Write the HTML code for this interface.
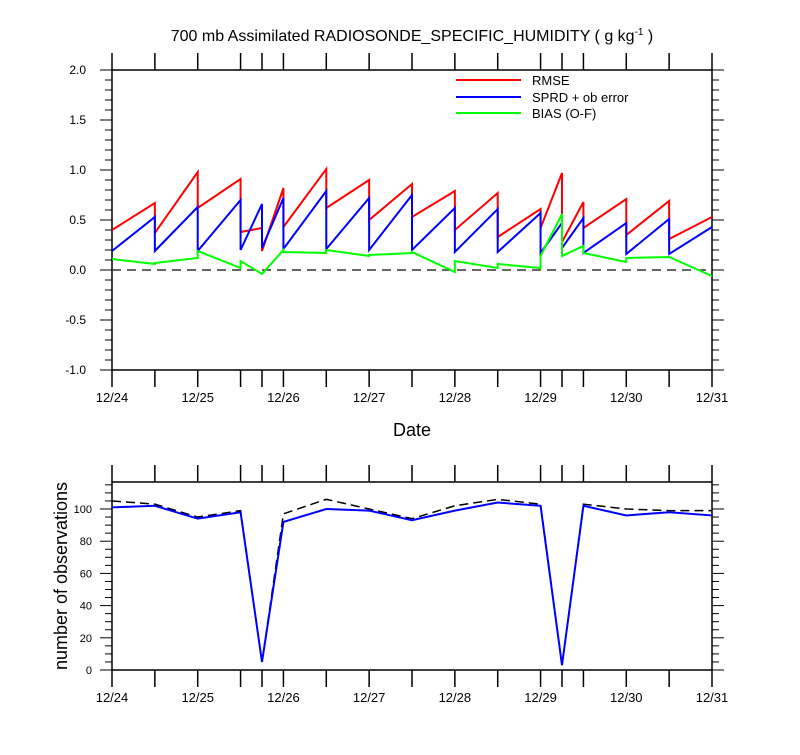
<!DOCTYPE html>
<html><head><meta charset="utf-8"><style>
body{margin:0;background:#fff;font-family:"Liberation Sans",sans-serif}
svg text{font-family:"Liberation Sans",sans-serif;fill:#000}
</style></head><body>
<svg id="c" width="800" height="750" xmlns="http://www.w3.org/2000/svg">
<rect width="800" height="750" fill="#fff"/>
<text x="412" y="41" font-size="16" text-anchor="middle">700 mb Assimilated RADIOSONDE_SPECIFIC_HUMIDITY ( g kg<tspan dy="-6" font-size="10">-1</tspan><tspan dy="6"> )</tspan></text>
<g id="topPanel"></g><g id="botPanel"></g>
</svg>
<script>
const times=[0,0.5,1,1.5,1.75,2,2.5,3,3.5,4,4.5,5,5.25,5.5,6,6.5,7];
const dateLabels=["12/24","12/25","12/26","12/27","12/28","12/29","12/30","12/31"];
const rmseStart=[0.40,0.37,0.62,0.38,0.19,0.43,0.62,0.50,0.53,0.40,0.33,0.42,0.28,0.42,0.35,0.31];
const rmseEnd=[0.67,0.98,0.91,0.42,0.82,1.01,0.90,0.86,0.79,0.77,0.61,0.97,0.68,0.71,0.69,0.53];
const sprdStart=[0.19,0.19,0.19,0.20,0.22,0.21,0.21,0.20,0.20,0.18,0.18,0.17,0.22,0.17,0.16,0.16];
const sprdEnd=[0.53,0.63,0.70,0.66,0.72,0.79,0.72,0.75,0.62,0.61,0.57,0.47,0.52,0.47,0.51,0.43];
const biasStart=[0.11,0.07,0.19,0.09,-0.04,0.18,0.20,0.15,0.18,0.09,0.06,0.14,0.14,0.17,0.12,0.13];
const biasEnd=[0.06,0.12,0.02,-0.04,0.20,0.17,0.14,0.17,-0.02,0.02,0.02,0.56,0.24,0.08,0.13,-0.06];
const obsUsed=[101,102,94,98,5,92,100,99,93,99,104,102,3,102,96,98,96];
const obsTotal=[105,103,95,99,5,97,106,100,94,102,106,103,3,103,100,99,99];
const topTicks=[-1.0,-0.5,0.0,0.5,1.0,1.5,2.0];
const botTicks=[0,20,40,60,80,100];

const NS="http://www.w3.org/2000/svg";
function mk(par,tag,at){const e=document.createElementNS(NS,tag);for(const k in at)e.setAttribute(k,at[k]);par.appendChild(e);return e;}
const X0=112,X1=712;
const xs=t=>X0+t/7*(X1-X0);
const yT=v=>270-v*100;
const yB=v=>670-v*1.61;
const topG=document.getElementById('topPanel'),botG=document.getElementById('botPanel');

function frame(g,y0,y1,name){
  const r=mk(g,'rect',{x:X0,y:y0,width:X1-X0,height:y1-y0,fill:'none',stroke:'#000','stroke-width':1.5});
  
  
  times.forEach(t=>{
    mk(g,'line',{x1:xs(t),x2:xs(t),y1:y0-17,y2:y0,stroke:'#000','stroke-width':1.5});
    mk(g,'line',{x1:xs(t),x2:xs(t),y1:y1,y2:y1+17,stroke:'#000','stroke-width':1.5});
  });
  dateLabels.forEach((d,i)=>{
    const tx=mk(g,'text',{x:xs(i),y:y1+32,'font-size':13,'text-anchor':'middle'});tx.textContent=d;
    
    
  });
}
// top panel
frame(topG,70,370,'top-plot-frame');
for(let k=-10;k<=20;k++){
  const v=k/10, maj=k%5===0, L=maj?12:7;
  mk(topG,'line',{x1:X0-L,x2:X0,y1:yT(v),y2:yT(v),stroke:'#000','stroke-width':1});
  mk(topG,'line',{x1:X1,x2:X1+L,y1:yT(v),y2:yT(v),stroke:'#000','stroke-width':1});
}
topTicks.forEach(v=>{
  const t=mk(topG,'text',{x:86,y:yT(v)+4,'font-size':12,'text-anchor':'end'});t.textContent=v.toFixed(1);
  
  
});
const zl=mk(topG,'line',{x1:X0,x2:X1,y1:yT(0),y2:yT(0),stroke:'#333','stroke-width':1.5,'stroke-dasharray':'9,6'});


function saw(st,en,col,name){
  let d='';
  for(let i=0;i<st.length;i++){d+=(i?'L':'M')+xs(times[i])+','+yT(st[i])+'L'+xs(times[i+1])+','+yT(en[i]);}
  const p=mk(topG,'path',{d:d,fill:'none',stroke:col,'stroke-width':2});
  
  
}
saw(rmseStart,rmseEnd,'#f00','rmse-line');
saw(sprdStart,sprdEnd,'#00f','sprd-line');
saw(biasStart,biasEnd,'#0f0','bias-line');
[['RMSE','#f00',80],['SPRD + ob error','#00f',97],['BIAS (O-F)','#0f0',113]].forEach(([n,c,y])=>{
  const g=mk(topG,'g',{});
  
  
  mk(g,'line',{x1:456,x2:521,y1:y,y2:y,stroke:c,'stroke-width':2});
  const t=mk(g,'text',{x:532,y:y+5,'font-size':13});t.textContent=n;
});
const dt=mk(topG,'text',{x:412,y:436,'font-size':18,'text-anchor':'middle'});dt.textContent='Date';



// bottom panel
frame(botG,482,670,'bottom-plot-frame');
for(let v=0;v<=115;v+=5){
  const maj=v%20===0, L=maj?12:7;
  mk(botG,'line',{x1:X0-L,x2:X0,y1:yB(v),y2:yB(v),stroke:'#000','stroke-width':1});
  mk(botG,'line',{x1:X1,x2:X1+L,y1:yB(v),y2:yB(v),stroke:'#000','stroke-width':1});
}
botTicks.forEach(v=>{
  const t=mk(botG,'text',{x:92,y:yB(v)+4,'font-size':11,'text-anchor':'end'});t.textContent=v;
  
  
});
const yl=mk(botG,'text',{x:0,y:0,'font-size':18,'text-anchor':'middle',transform:'translate(67,576) rotate(-90)'});yl.textContent='number of observations';


function poly(vals,col,dash,name){
  const p=mk(botG,'polyline',{points:vals.map((v,i)=>xs(times[i])+','+yB(v)).join(' '),fill:'none',stroke:col,'stroke-width':dash?1.5:2});
  if(dash)p.setAttribute('stroke-dasharray','9,5');
  
  
}
poly(obsTotal,'#000',true,'obs-total-line');
poly(obsUsed,'#00f',false,'obs-used-line');
</script>
</body></html>
